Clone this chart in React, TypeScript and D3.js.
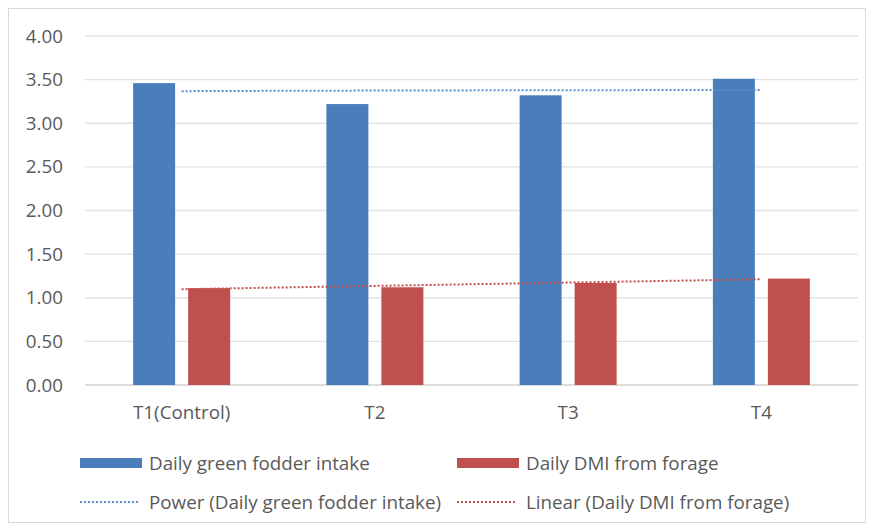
import React from "react";
import * as d3 from "d3";

const categories = ["T1(Control)", "T2", "T3", "T4"];
const greenFodder = [3.46, 3.22, 3.32, 3.51];
const dmiForage = [1.11, 1.12, 1.17, 1.22];
const yTicks = [0, 0.5, 1, 1.5, 2, 2.5, 3, 3.5, 4];
const seriesNames = ["Daily green fodder intake", "Daily DMI from forage"];
const trendNames = ["Power (Daily green fodder intake)", "Linear (Daily DMI from forage)"];

const BLUE = "#4a7ebb";
const RED = "#c0504d";
const TXT = "#595959";
const FONT = "'Open Sans', 'Liberation Sans', Arial, sans-serif";
const FS = 18.8;

function powerFit(ys: number[]) {
  const xs = ys.map((_, i) => Math.log(i + 1));
  const ls = ys.map((y) => Math.log(y));
  const mx = d3.mean(xs)!, my = d3.mean(ls)!;
  let num = 0, den = 0;
  xs.forEach((x, i) => { num += (x - mx) * (ls[i] - my); den += (x - mx) ** 2; });
  const b = num / den;
  const a = Math.exp(my - b * mx);
  return (x: number) => a * Math.pow(x, b);
}
function linearFit(ys: number[]) {
  const xs = ys.map((_, i) => i + 1);
  const mx = d3.mean(xs)!, my = d3.mean(ys)!;
  let num = 0, den = 0;
  xs.forEach((x, i) => { num += (x - mx) * (ys[i] - my); den += (x - mx) ** 2; });
  const b = num / den;
  const a = my - b * mx;
  return (x: number) => a + b * x;
}

export default function App() {
  const W = 874, H = 528;
  const left = 85, right = 858, top = 36, bottom = 385;
  const x = d3.scaleBand<string>().domain(categories).range([left, right]);
  const y = d3.scaleLinear().domain([0, 4]).range([bottom, top]);
  const barW = 42, gap = 13;
  const pf = powerFit(greenFodder);
  const lf = linearFit(dmiForage);
  const steps = d3.range(0, 61).map((i) => 1 + (i * 3) / 60);
  const cx = (v: number) => x(categories[0])! + x.bandwidth() / 2 + (v - 1) * x.step();
  const line = d3.line<[number, number]>().x((d) => d[0]).y((d) => d[1]);
  const powerPath = line(steps.map((s) => [cx(s), y(pf(s))]));
  const linPath = line(steps.map((s) => [cx(s), y(lf(s))]));

  return (
    <svg width={W} height={H} style={{ position: "absolute", left: 0, top: 0 }} fontFamily={FONT}>
      <rect x={0} y={0} width={W} height={H} fill="#fff" />
      <rect x={8.5} y={8.5} width={857} height={514} fill="#fff" stroke="#d9d9d9" />
      {yTicks.map((t) => (
        <g key={t}>
          <line x1={left} x2={right} y1={y(t)} y2={y(t)} stroke={t === 0 ? "#d0d0d0" : "#e3e3e3"} strokeWidth={1.3} />
          <text x={63} y={y(t)} dy="0.35em" textAnchor="end" fontSize={FS} fill={TXT}>{t.toFixed(2)}</text>
        </g>
      ))}
      {categories.map((c, i) => {
        const center = x(c)! + x.bandwidth() / 2;
        return (
          <g key={c}>
            <rect x={center - gap / 2 - barW} y={y(greenFodder[i])} width={barW} height={y(0) - y(greenFodder[i])} fill={BLUE} />
            <rect x={center + gap / 2} y={y(dmiForage[i])} width={barW} height={y(0) - y(dmiForage[i])} fill={RED} />
            <text x={center} y={412} dy="0.35em" textAnchor="middle" fontSize={FS} fill={TXT}>{c}</text>
          </g>
        );
      })}
      <path d={powerPath!} fill="none" stroke="#5b8fd0" strokeWidth={2} strokeDasharray="2 2" />
      <path d={linPath!} fill="none" stroke={RED} strokeWidth={2} strokeDasharray="2 2" />
      {/* legend */}
      <rect x={80} y={458} width={62} height={10} fill={BLUE} />
      <text x={149} y={463} dy="0.35em" fontSize={FS} fill={TXT}>{seriesNames[0]}</text>
      <rect x={457} y={458} width={62} height={10} fill={RED} />
      <text x={526} y={463} dy="0.35em" fontSize={FS} fill={TXT}>{seriesNames[1]}</text>
      <line x1={80} x2={138} y1={502} y2={502} stroke="#5b8fd0" strokeWidth={2} strokeDasharray="2 2" />
      <text x={149} y={502} dy="0.35em" fontSize={FS} fill={TXT}>{trendNames[0]}</text>
      <line x1={457} x2={515} y1={502} y2={502} stroke={RED} strokeWidth={2} strokeDasharray="2 2" />
      <text x={526} y={502} dy="0.35em" fontSize={FS} fill={TXT}>{trendNames[1]}</text>
    </svg>
  );
}
